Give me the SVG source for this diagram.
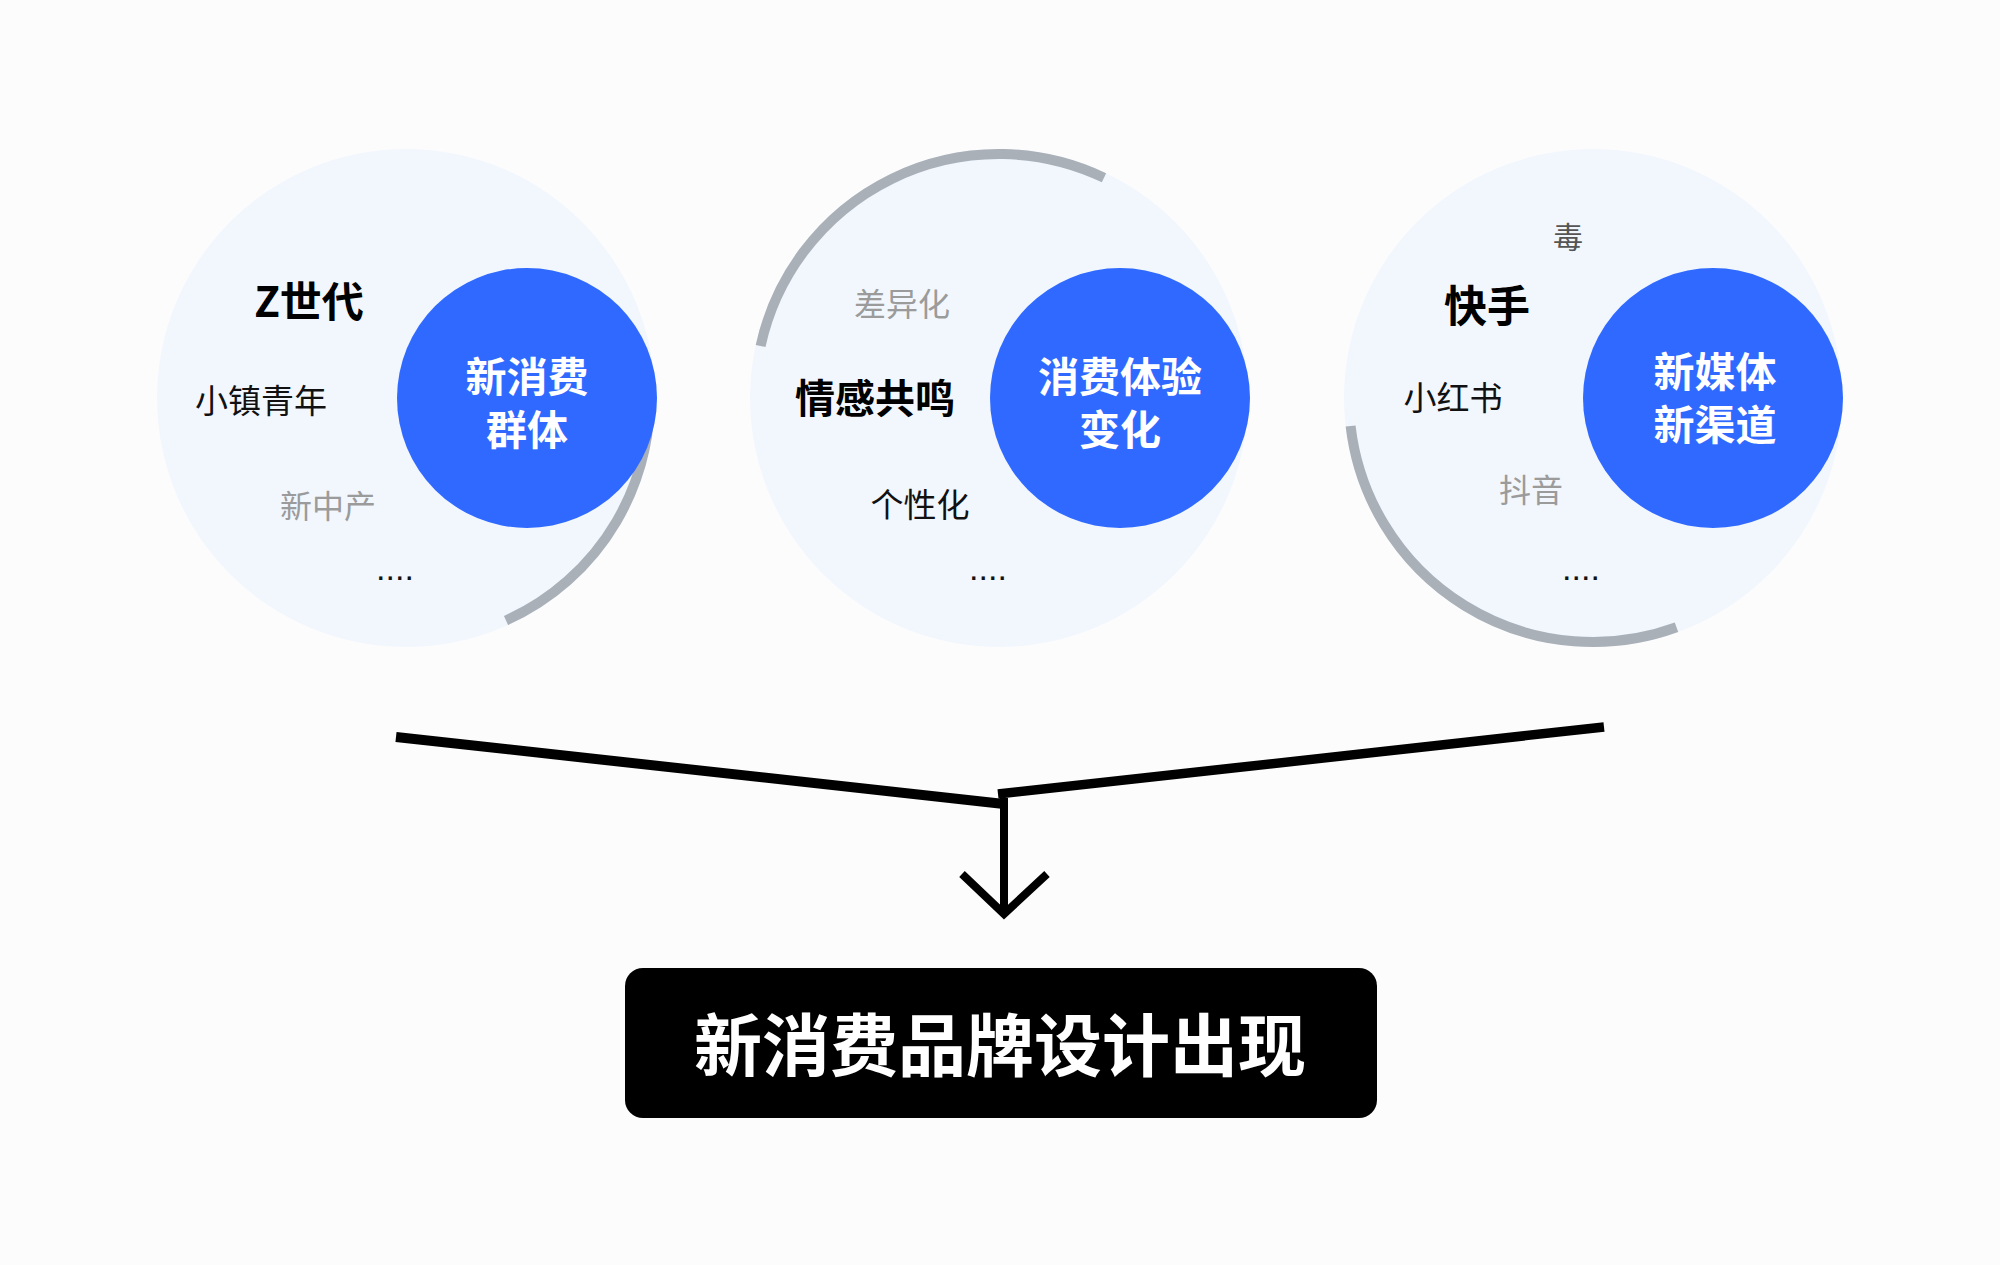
<svg xmlns="http://www.w3.org/2000/svg" width="2000" height="1265" viewBox="0 0 2000 1265">
<style>
.bg{fill:#fcfcfd}
.outer{fill:#f2f7fe}
.arc{fill:none;stroke:#a9b0b8;stroke-width:10;stroke-linecap:butt}
.core{fill:#2f69ff}
text{font-family:"Noto Sans CJK SC","Noto Sans",sans-serif;text-anchor:middle}
.core-t{fill:#ffffff;font-size:41px;font-weight:700}
.big{fill:#000;font-size:40px;font-weight:700}
.mid{fill:#111;font-size:33px}
.grey{fill:#9b9b9b;font-size:32px}
.dots{fill:#111;font-size:34px;font-family:"Liberation Sans",sans-serif}
.line{fill:none;stroke:#000;stroke-linecap:butt}
</style>
<rect class="bg" x="0" y="0" width="2000" height="1265"/>

<g id="node-group">
  <circle class="outer" cx="406" cy="398" r="249"/>
  <path class="arc" d="M649.1,376.7 A244,244 0 0,1 506,620.5"/>
  <circle class="core" cx="527" cy="398" r="130"/>
  <text class="core-t" x="527" y="392">新消费</text>
  <text class="core-t" x="527" y="445">群体</text>
  <text class="big" style="font-size:42px" x="309" y="317">Z世代</text>
  <text class="mid" x="261" y="413">小镇青年</text>
  <text class="grey" x="328" y="518">新中产</text>
  <text class="dots" x="395" y="580">....</text>
</g>

<g id="node-experience">
  <circle class="outer" cx="999" cy="398" r="249"/>
  <path class="arc" d="M760.6,346 A244,244 0 0,1 1104,177.8"/>
  <circle class="core" cx="1120" cy="398" r="130"/>
  <text class="core-t" x="1120" y="392">消费体验</text>
  <text class="core-t" x="1120" y="445">变化</text>
  <text class="grey" x="902" y="316">差异化</text>
  <text class="big" x="875" y="413">情感共鸣</text>
  <text class="mid" x="920" y="517">个性化</text>
  <text class="dots" x="988" y="580">....</text>
</g>

<g id="node-media">
  <circle class="outer" cx="1593" cy="398" r="249"/>
  <path class="arc" d="M1676.5,627.3 A244,244 0 0,1 1350.6,426"/>
  <circle class="core" cx="1713" cy="398" r="130"/>
  <text class="core-t" x="1715" y="387">新媒体</text>
  <text class="core-t" x="1715" y="440">新渠道</text>
  <text style="fill:#555;font-size:30px" x="1568" y="248">毒</text>
  <text class="big" style="font-size:43px" x="1487" y="322">快手</text>
  <text class="mid" x="1453" y="410">小红书</text>
  <text class="grey" x="1531" y="502">抖音</text>
  <text class="dots" x="1581" y="580">....</text>
</g>

<g id="connectors">
  <line class="line" x1="396" y1="737" x2="1004" y2="804" stroke-width="10"/>
  <line class="line" x1="998" y1="794" x2="1604" y2="727" stroke-width="9.5"/>
  <line class="line" x1="1004" y1="798" x2="1004" y2="910" stroke-width="8"/>
  <polyline class="line" points="962,874 1004,914 1047,874" stroke-width="8" stroke-linejoin="miter"/>
</g>

<g id="node-result">
  <rect x="625" y="968" width="752" height="150" rx="18" ry="18" fill="#000"/>
  <text style="fill:#fff;font-size:68px;font-weight:700" x="1000" y="1071">新消费品牌设计出现</text>
</g>
</svg>
